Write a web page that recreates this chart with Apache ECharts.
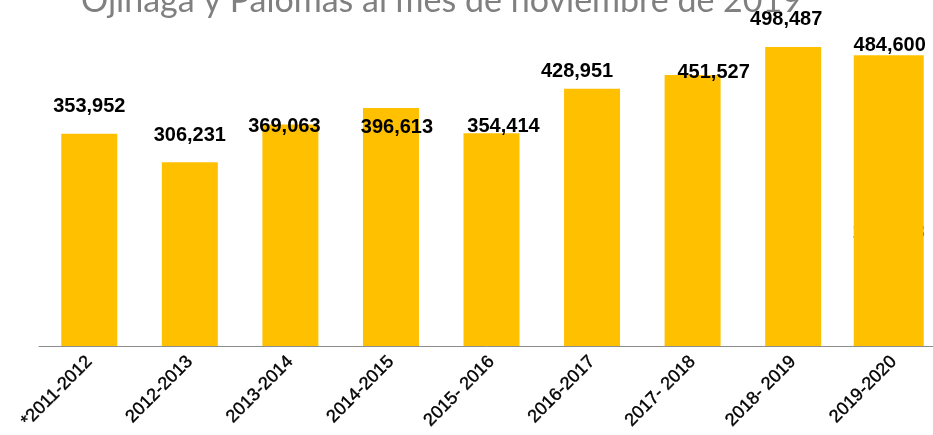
<!DOCTYPE html>
<html>
<head>
<meta charset="utf-8">
<script src="https://cdn.jsdelivr.net/npm/echarts@6/dist/echarts.min.js"></script>
<style>
  html, body { margin: 0; padding: 0; background: #fff; }
  #chart { width: 933px; height: 435px; }
</style>
</head>
<body>
<div id="chart"></div>
<script>
// datos
const categories = ['*2011-2012', '2012-2013', '2013-2014', '2014-2015', '2015- 2016', '2016-2017', '2017- 2018', '2018- 2019', '2019-2020']
const values = [353952, 306231, 369063, 396613, 354414, 428951, 451527, 498487, 484600]
// desplazamiento de etiquetas [dx, dy] como en la imagen original
const labelOffsets = [[0, -17], [0, -17], [-6, 12], [6, 29], [12, 3], [-15, -7], [21, 7], [-7, -17], [1, 0]]

const last = values.length - 1
const chart = echarts.init(document.getElementById('chart'))

const labelStyle = {
  show: true,
  position: 'top',
  distance: 0,
  lineHeight: 20,
  color: '#000',
  fontFamily: 'Liberation Sans',
  fontWeight: 'bold',
  fontSize: 20,
  formatter: p => p.value.toLocaleString('en-US')
}

const option = {
  animation: false,
  title: {
    text: 'Ojinaga y Palomas al mes de noviembre de 2019',
    right: 126,
    top: -21,
    textStyle: {
      fontFamily: 'Lato',
      fontSize: 34,
      fontWeight: 'normal',
      color: '#808080'
    }
  },
  grid: { left: 39, width: 905, top: 46, bottom: 89, containLabel: false, outerBoundsMode: 'none' },
  xAxis: [
    {
      type: 'category',
      data: categories,
      axisLine: { lineStyle: { color: '#8c8c8c', width: 1 } },
      axisTick: { length: 7, lineStyle: { color: '#8c8c8c' } },
      axisLabel: {
        rotate: 45,
        interval: 0,
        margin: 13,
        color: '#000',
        textBorderColor: '#000',
        textBorderWidth: 0.4,
        fontFamily: 'Liberation Sans',
        fontSize: 18
      }
    },
    { type: 'category', data: categories, show: false }
  ],
  yAxis: {
    type: 'value',
    min: 0,
    max: 500000,
    show: false,
    splitLine: { show: false }
  },
  series: [
    {
      type: 'bar',
      barWidth: 56,
      data: values.map((v, i) => i === last ? '-' : ({ value: v, label: { offset: labelOffsets[i] } })),
      itemStyle: { color: '#FFC000' },
      label: labelStyle
    },
    {
      // la última barra es más ancha en el original
      type: 'bar',
      xAxisIndex: 1,
      barWidth: 70,
      barGap: 0,
      data: values.map((v, i) => i === last ? ({ value: v, label: { offset: labelOffsets[i] } }) : '-'),
      itemStyle: { color: '#FFC000' },
      label: labelStyle
    },
    {
      type: 'bar',
      xAxisIndex: 1,
      barWidth: 10,
      barGap: 0,
      data: values.map(() => '-')
    }
  ]
}
chart.setOption(option)

// etiqueta oculta detrás de la última barra
const hidden = chart.convertToPixel({ xAxisIndex: 0, yAxisIndex: 0 }, [categories[last], 190000])
chart.setOption({
  graphic: [{
    type: 'text',
    z: 0,
    x: hidden[0] - 5,
    y: hidden[1],
    style: {
      text: '143,583',
      fill: '#000',
      font: 'bold 20px "Liberation Sans"',
      align: 'center',
      verticalAlign: 'middle'
    }
  }]
})
</script>
</body>
</html>
